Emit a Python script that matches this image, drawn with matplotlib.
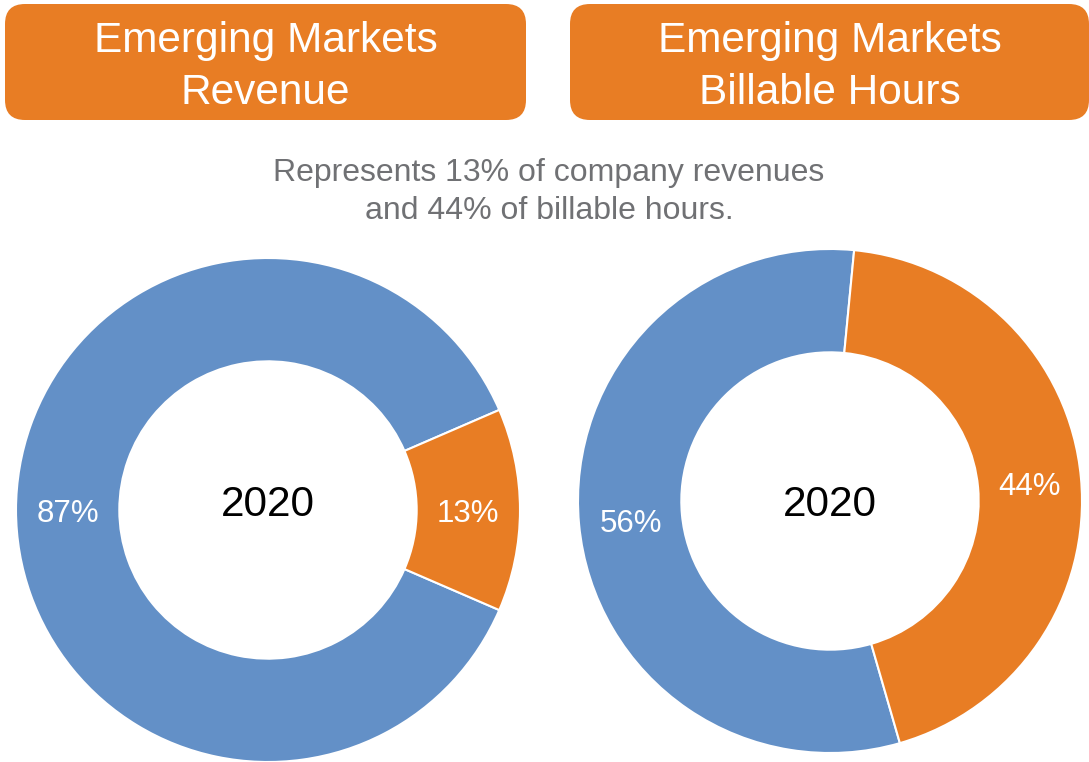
import matplotlib
matplotlib.use("Agg")
import matplotlib.pyplot as plt
from matplotlib.patches import FancyBboxPatch

plt.rcParams['font.family'] = ['Liberation Sans', 'DejaVu Sans']

# Data
titles = ["Emerging Markets\nRevenue", "Emerging Markets\nBillable Hours"]
subtitle = "Represents 13% of company revenues\nand 44% of billable hours."
center_label = "2020"
revenue_values = [87, 13]
hours_values = [56, 44]
segment_colors = ["#6390C7", "#E87D24"]
header_color = "#E87D24"

W, H = 1089, 762
fig = plt.figure(figsize=(W / 100, H / 100), dpi=100)

# overlay axes in pixel coordinates
ov = fig.add_axes([0, 0, 1, 1])
ov.set_xlim(0, W)
ov.set_ylim(H, 0)
ov.axis('off')
ov.set_zorder(2)
ov.patch.set_alpha(0)

boxes = [(5, 4, 521, 116), (570, 4, 519, 116)]
for (x, y, w, h), t in zip(boxes, titles):
    r = 20
    p = FancyBboxPatch((x + r, y + r), w - 2 * r, h - 2 * r,
                       boxstyle=f"round,pad={r}", fc=header_color, ec='none')
    ov.add_patch(p)
    ov.text(x + w / 2, y + h / 2 + 5, t, ha='center', va='center',
            color='white', fontsize=30.5, linespacing=1.4)

ov.text(549, 192, subtitle, ha='center', va='center', color='#707174',
        fontsize=23, linespacing=1.38)


def donut(cx, cy, r, values, startangle, label_y):
    ax = fig.add_axes([(cx - r) / W, (H - cy - r) / H, 2 * r / W, 2 * r / H])
    wedges, texts, autotexts = ax.pie(
        values, colors=segment_colors, startangle=startangle,
        counterclock=True, radius=1,
        wedgeprops=dict(width=0.41, edgecolor='white', linewidth=1.5),
        autopct='%.0f%%', pctdistance=0.795,
        textprops=dict(color='white', fontsize=22.5))
    for t in autotexts:
        x, y = t.get_position()
        t.set_position((x, y - 0.016))
    ax.set_xlim(-1, 1)
    ax.set_ylim(-1, 1)
    ax.set_aspect('equal')
    ax.axis('off')
    ov.text(cx, label_y, center_label, ha='center', va='center',
            color='black', fontsize=30.5)


donut(268, 510, 252, revenue_values, 23.4, 505)
donut(830, 501, 252, hours_values, 84.5, 505)

fig.savefig("out.png", dpi=100)
